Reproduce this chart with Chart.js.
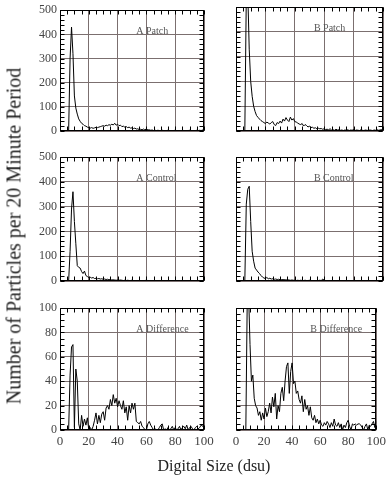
<!DOCTYPE html>
<html><head><meta charset="utf-8">
<script src="https://cdn.jsdelivr.net/npm/chart.js@4/dist/chart.umd.min.js"></script>
<style>
html,body{margin:0;padding:0;background:#fff;}
#wrap{position:relative;width:390px;height:482px;overflow:hidden;}
canvas{position:absolute;left:0;top:0;}
#ytitle{position:absolute;left:14px;top:236px;transform:translate(-50%,-50%) rotate(-90deg);white-space:nowrap;font-family:"Liberation Serif",serif;font-size:20px;color:#222;}
#xtitle{position:absolute;left:214px;top:466px;transform:translate(-50%,-50%);white-space:nowrap;font-family:"Liberation Serif",serif;font-size:16px;color:#222;}
</style></head>
<body><div id="wrap">
<canvas id="c1" width="390" height="482"></canvas>
<canvas id="c2" width="390" height="482"></canvas>
<canvas id="c3" width="390" height="482"></canvas>
<canvas id="c4" width="390" height="482"></canvas>
<canvas id="c5" width="390" height="482"></canvas>
<canvas id="c6" width="390" height="482"></canvas>
<div id="ytitle">Number of Particles per 20 Minute Period</div>
<div id="xtitle">Digital Size (dsu)</div>
</div>
<script>
const sizes = [6,7,8,9,10,11,12,13,14,15,16,17,18,19,20,21,22,23,24,25,26,27,28,29,30,31,32,33,34,35,36,37,38,39,40,41,42,43,44,45,46,47,48,49,50,51,52,53,54,55,56,57,58,59,60,61,62,63,64,65,66,67,68,69,70,71,72,73,74,75,76,77,78,79,80,81,82,83,84,85,86,87,88,89,90,91,92,93,94,95,96,97,98,99,100];

const aPatch = [0,300,430,320,145,95,70,50,40,32,28,22,20,16,14,
12,14,11,13,15,14,16,18,20,22,
20,24,22,26,24,28,25,32,24,28,
22,24,18,20,16,18,14,16,12,13,
10,12,8,9,6,7,5,8,4,10,
4,5,3,4,2,3,2,3,2,2,
3,2,1,2,3,2,1,2,2,3,
1,2,2,1,3,2,1,2,2,3,
1,2,2,1,3,2,3,2,4,3];

const bPatch = [0,540,560,330,200,140,100,78,62,55,48,42,38,34,30,
36,32,28,34,38,26,22,34,30,40,
32,48,40,54,44,38,56,44,50,38,
36,32,28,26,30,20,26,22,16,20,
14,15,11,13,9,11,9,10,7,9,
6,7,5,9,4,5,3,7,4,5,
3,4,2,4,3,5,2,4,3,6,
2,4,3,2,5,3,2,4,3,2,
4,3,2,4,3,5,3,4,6,7];

const aControl = [0,120,290,360,240,150,62,55,52,38,30,40,22,18,14,
15,12,14,10,11,9,10,8,9,7,
8,6,7,5,6,4,5,4,3,4,
3,4,3,2,3,2,3,2,2,3,
2,1,2,2,1,2,2,1,2,3,
2,1,2,1,2,1,2,1,2,1,
2,1,2,1,2,1,1,2,1,2,
1,2,1,1,2,1,2,1,1,2,
1,1,2,1,1,2,1,1,2,1];

const bControl = [0,310,370,382,240,120,80,52,44,36,30,22,16,12,10,
14,9,11,8,9,7,8,6,7,5,
6,5,6,4,5,4,3,4,3,3,
2,3,2,3,2,2,3,2,2,3,
2,1,2,2,1,2,3,2,8,3,
2,1,2,2,1,2,1,2,1,2,
1,2,1,1,2,1,2,1,1,2,
1,1,2,1,2,1,1,2,1,1,
2,1,1,2,1,1,2,1,1,2];

const aDiff = [0,45,68,70,2,50,40,5,0,12,3,9,4,10,0,
2,0,3,8,14,5,12,6,13,15,
8,18,20,17,25,20,29,22,26,19,
24,20,17,24,14,19,8,20,14,22,
17,22,7,6,5,7,3,2,0,0,
5,7,4,2,0,1,0,0,2,4,
5,0,1,0,2,0,1,3,0,2,
0,1,3,0,2,3,1,4,0,2,
3,1,0,2,3,1,2,4,3,5];

const bDiff = [0,0,105,110,70,40,45,26,20,18,12,15,8,14,9,
18,11,15,22,14,27,19,30,9,20,
15,30,35,24,40,52,55,30,48,55,
38,40,30,32,25,22,28,15,25,17,
20,12,19,10,8,12,6,9,5,8,
4,3,6,4,7,5,2,6,3,9,
4,3,6,2,5,0,4,2,6,8,
3,0,5,4,5,4,5,5,4,2,
0,3,5,0,4,3,5,7,2,7];

const xTicks = [0,20,40,60,80,100];
const yTicksLarge = [0,100,200,300,400,500];
const yTicksSmall = [0,20,40,60,80,100];

const panelLabels = ['A Patch','B Patch','A Control','B Control','A Difference','B Difference'];

const FONT = '"Liberation Serif", "Times New Roman", serif';
const GRID = '#7b6f6f';
const TXT = '#444';
const YW = 40, XH = 22;

const framePlugin = {
  id: 'frame',
  afterDatasetsDraw(chart, args, opts) {
    const ctx = chart.ctx, a = chart.chartArea;
    const xs = chart.scales.x, ys = chart.scales.y;
    ctx.save();
    ctx.strokeStyle = '#000';
    ctx.lineWidth = 1;
    const L = Math.round(a.left) + 0.5, R = Math.round(a.right) - 0.5;
    const T = Math.round(a.top) + 0.5, B = Math.round(a.bottom) - 0.5;
    ctx.beginPath();
    const tl = 4;
    for (let v = 0; v <= 100; v += 5) {
      const px = Math.round(xs.getPixelForValue(v)) + 0.5;
      ctx.moveTo(px, B); ctx.lineTo(px, B - tl);
      ctx.moveTo(px, T); ctx.lineTo(px, T + tl);
    }
    for (let v = 0; v <= opts.ymax; v += opts.yminor) {
      const py = Math.round(ys.getPixelForValue(v)) + 0.5;
      ctx.moveTo(L, py); ctx.lineTo(L + tl, py);
      ctx.moveTo(R, py); ctx.lineTo(R - tl, py);
    }
    ctx.stroke();
    ctx.strokeRect(L, T, R - L, B - T);
    ctx.fillStyle = '#555';
    ctx.font = '10px ' + FONT;
    ctx.textAlign = 'left';
    ctx.textBaseline = 'alphabetic';
    ctx.fillText(opts.label, xs.getPixelForValue(53), ys.getPixelForValue(opts.ymax * 0.8) - 0.5);
    ctx.restore();
  }
};

function makePanel(id, values, box, ymax, ytickVals, yminor, label, showY, showX) {
  const pts = sizes.map((s, i) => ({x: s, y: values[i]}));
  const yw = showY ? YW : 0, xh = showX ? XH : 0;
  new Chart(document.getElementById(id), {
    type: 'line',
    data: { datasets: [{ data: pts, borderColor: '#000', borderWidth: 1, pointRadius: 0, tension: 0, fill: false }] },
    plugins: [framePlugin],
    options: {
      responsive: false, animation: false,
      layout: { padding: { left: box[0] - yw, top: box[1], right: 390 - box[2], bottom: 482 - box[3] - xh } },
      plugins: { legend: { display: false }, tooltip: { enabled: false },
        frame: { ymax: ymax, yminor: yminor, label: label } },
      scales: {
        x: { type: 'linear', min: 0, max: 100,
          afterBuildTicks: s => { s.ticks = xTicks.map(v => ({value: v})); },
          afterFit: s => { s.height = xh; },
          grid: { color: GRID, lineWidth: 1, drawTicks: false },
          border: { display: false },
          ticks: { display: showX, color: TXT, padding: 4, maxRotation: 0, autoSkip: false,
            font: { family: FONT, size: 13 } } },
        y: { type: 'linear', min: 0, max: ymax,
          afterBuildTicks: s => { s.ticks = ytickVals.map(v => ({value: v})); },
          afterFit: s => { s.width = yw; },
          grid: { color: GRID, lineWidth: 1, drawTicks: false },
          border: { display: false },
          ticks: { display: showY, color: TXT, padding: 3, autoSkip: false,
            font: { family: FONT, size: 12 } } }
      }
    }
  });
}

const colL = [60, 204], colR = [236, 383];
const rowT = [7, 131], rowM = [157, 281], rowB = [308, 430];

makePanel('c1', aPatch,   [colL[0], rowT[0], colL[1], rowT[1]], 500, yTicksLarge, 20, panelLabels[0], true, false);
makePanel('c2', bPatch,   [colR[0], rowT[0], colR[1], rowT[1]], 500, yTicksLarge, 20, panelLabels[1], false, false);
makePanel('c3', aControl, [colL[0], rowM[0], colL[1], rowM[1]], 500, yTicksLarge, 20, panelLabels[2], true, false);
makePanel('c4', bControl, [colR[0], rowM[0], colR[1], rowM[1]], 500, yTicksLarge, 20, panelLabels[3], false, false);
makePanel('c5', aDiff,    [colL[0], rowB[0], colL[1], rowB[1]], 100, yTicksSmall, 5, panelLabels[4], true, true);
makePanel('c6', bDiff,    [colR[0], rowB[0], colR[1], rowB[1]], 100, yTicksSmall, 5, panelLabels[5], false, true);
</script>
</body></html>
